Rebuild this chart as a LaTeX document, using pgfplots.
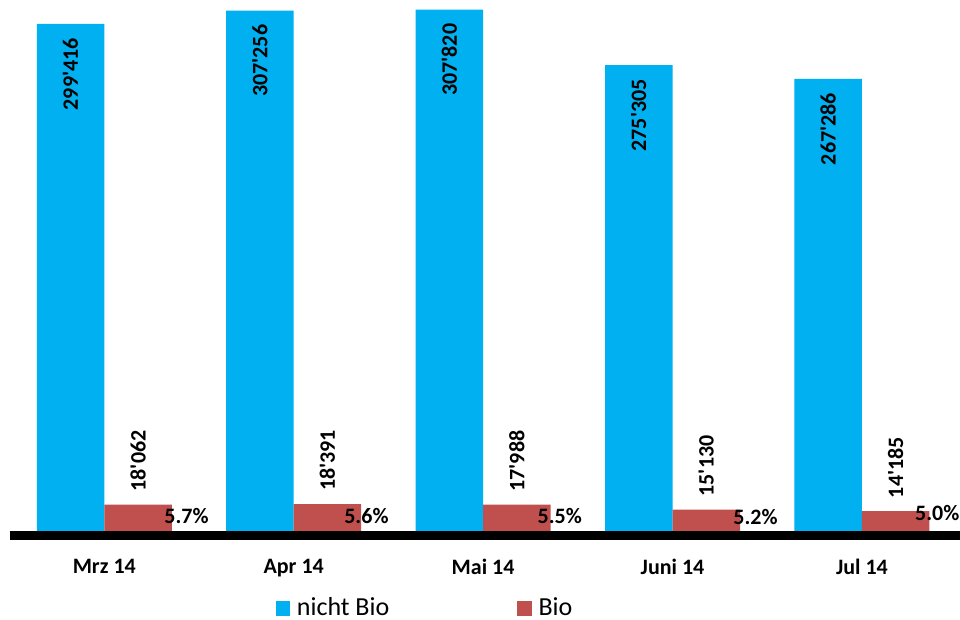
\documentclass[border=0pt]{standalone}
\usepackage{pgfplots}
\pgfplotsset{compat=1.18}
\usepackage{pgfplotstable}
\usepackage{fontspec}
\setmainfont{Carlito}
\newfontfamily\numfont{Carlito}
\definecolor{cblue}{RGB}{0,176,240}
\definecolor{cred}{RGB}{192,80,77}
\pgfplotstableread{
x y lab
0 299416 299'416
1 307256 307'256
2 307820 307'820
3 275305 275'305
4 267286 267'286
}\nichtbio
\pgfplotstableread{
x y lab
0 18062 18'062
1 18391 18'391
2 17988 17'988
3 15130 15'130
4 14185 14'185
}\bio
\begin{document}
\begin{tikzpicture}[x=1pt,y=1pt]
\useasboundingbox (0,0) rectangle (960,620);
\begin{axis}[
  at={(9.6pt,89pt)}, anchor=south west,
  scale only axis, width=950.4pt, height=531pt,
  xmin=-0.5, xmax=4.518, ymin=2600, ymax=313447,
  ybar=0pt, bar width=67.5pt,
  clip=false,
  axis x line*=bottom, hide y axis,
  axis line style={draw=none},
  xtick={0,1,2,3,4},
  xticklabels={Mrz 14, Apr 14, Mai 14, Juni 14, Jul 14},
  major tick length=0pt,
  xticklabel style={font=\bfseries\fontsize{22}{26}\selectfont, inner ysep=0pt, yshift=-28pt},
  point meta=explicit symbolic,
  nodes near coords,
  legend columns=2,
  legend style={at={(axis description cs:0.280,-0.1431)}, anchor=west, draw=none, fill=none,
    inner sep=0pt, outer sep=0pt,
    font=\fontsize{26}{30}\selectfont,
    nodes={inner xsep=0pt, inner ysep=1pt},
    /tikz/every odd column/.append style={column sep=6.5pt},
    /tikz/every even column/.append style={column sep=128pt}},
  legend image code/.code={\fill[#1] (0pt,-9pt) rectangle (14.7pt,5.7pt);},
]
\addplot[fill=cblue, draw=none,
  every node near coord/.append style={rotate=90, anchor=east, inner xsep=14pt,
    font=\numfont\bfseries\fontsize{22}{26}\selectfont, text=black}]
  table[x=x, y=y, meta=lab] {\nichtbio};
\addlegendentry{nicht Bio}
\addplot[fill=cred, draw=none,
  every node near coord/.append style={rotate=90, anchor=west, inner xsep=13pt,
    font=\numfont\bfseries\fontsize{22}{26}\selectfont, text=black}]
  table[x=x, y=y, meta=lab] {\bio};
\addlegendentry{Bio}
\draw[line width=9.4pt, black] ([yshift=-4.5pt]rel axis cs:0,0) -- ([yshift=-4.5pt]rel axis cs:1,0);
\begin{scope}[every node/.style={anchor=base, font=\bfseries\fontsize{22}{26}\selectfont, inner sep=0pt}]
\node at (axis cs:0.434,7111) {5.7\%};
\node at (axis cs:1.384,7111) {5.6\%};
\node at (axis cs:2.405,7111) {5.5\%};
\node at (axis cs:3.438,6115) {5.2\%};
\node at (axis cs:4.398,8634) {5.0\%};
\end{scope}
\end{axis}
\end{tikzpicture}
\end{document}
